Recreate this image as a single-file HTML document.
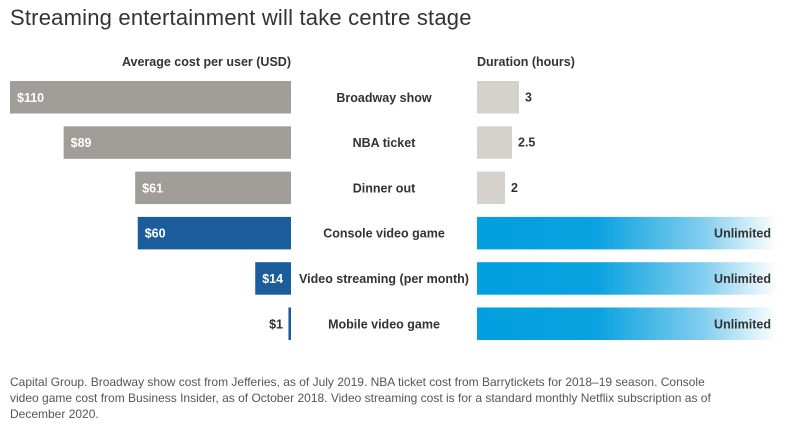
<!DOCTYPE html>
<html><head><meta charset="utf-8"><style>
body{margin:0;background:#fff;width:792px;height:433px;overflow:hidden;font-family:"Liberation Sans",sans-serif}
#title{position:absolute;left:10px;top:5px;font-size:22px;color:#333;margin:0;font-weight:normal;letter-spacing:0.2px}
#foot{position:absolute;left:10px;top:374px;width:780px;font-size:12px;line-height:16px;color:#555;white-space:nowrap}
</style></head><body>
<h1 id="title">Streaming entertainment will take centre stage</h1>
<svg id="chart" width="792" height="370" style="position:absolute;left:0;top:0">
<defs><linearGradient id="fade" x1="0" x2="1"><stop offset="0" stop-color="#009fdf"/><stop offset="0.4" stop-color="#0aa2e0"/><stop offset="0.75" stop-color="#80cdee"/><stop offset="1" stop-color="#ffffff"/></linearGradient></defs>
<text x="291" y="66" text-anchor="end" font-size="12.5" font-weight="bold" fill="#333">Average cost per user (USD)</text>
<text x="477" y="66" font-size="12.5" font-weight="bold" fill="#333">Duration (hours)</text>
<g id="marks"></g>
</svg>
<div id="foot">Capital Group. Broadway show cost from Jefferies, as of July 2019. NBA ticket cost from Barrytickets for 2018–19 season. Console<br>video game cost from Business Insider, as of October 2018. Video streaming cost is for a standard monthly Netflix subscription as of<br>December 2020.</div>
<script>
const categories=["Broadway show","NBA ticket","Dinner out","Console video game","Video streaming (per month)","Mobile video game"];
const costs=[110,89,61,60,14,1];
const hours=[3,2.5,2,null,null,null];
const hourLabels=["3","2.5","2","Unlimited","Unlimited","Unlimited"];
const costColors=["#a19d99","#a19d99","#a19d99","#1b5c9c","#1b5c9c","#1b5c9c"];
const NS="http://www.w3.org/2000/svg";
const g=document.getElementById('marks');
const xCost=v=>v*281/110;
const xHour=v=>v*14;
const yRow=i=>81+i*45.3;
const BH=32.5;
function mk(t,a){const e=document.createElementNS(NS,t);for(const k in a)e.setAttribute(k,a[k]);g.appendChild(e);return e;}
categories.forEach((c,i)=>{
  const y=yRow(i),w=xCost(costs[i]);
  const r=mk('rect',{x:291-w,y:y,width:w,height:BH,fill:costColors[i]});
  
  
  const t=mk('text',{x:costs[i]<5?283:291-w+7,y:y+BH/2+4.5,'font-size':12.5,'font-weight':'bold',fill:costs[i]<5?'#333':'#fff','text-anchor':costs[i]<5?'end':'start'});
  t.textContent='$'+costs[i];
  
  
  const l=mk('text',{x:384,y:y+BH/2+4.5,'font-size':12.5,'font-weight':'bold',fill:'#333','text-anchor':'middle'});
  l.textContent=c;
  
  
  if(hours[i]!==null){
    const hw=xHour(hours[i]);
    const h=mk('rect',{x:477,y:y,width:hw,height:BH,fill:'#d5d1cd'});
    
    
    const ht=mk('text',{x:477+hw+6,y:y+BH/2+4,'font-size':12.5,'font-weight':'bold',fill:'#333'});
    ht.textContent=hourLabels[i];
    
    
  }else{
    const h=mk('rect',{x:477,y:y,width:300,height:BH,fill:'url(#fade)'});
    
    
    const ht=mk('text',{x:771,y:y+BH/2+4.5,'font-size':12.5,'font-weight':'bold',fill:'#333','text-anchor':'end'});
    ht.textContent=hourLabels[i];
    
    
  }
});
</script>
</body></html>
